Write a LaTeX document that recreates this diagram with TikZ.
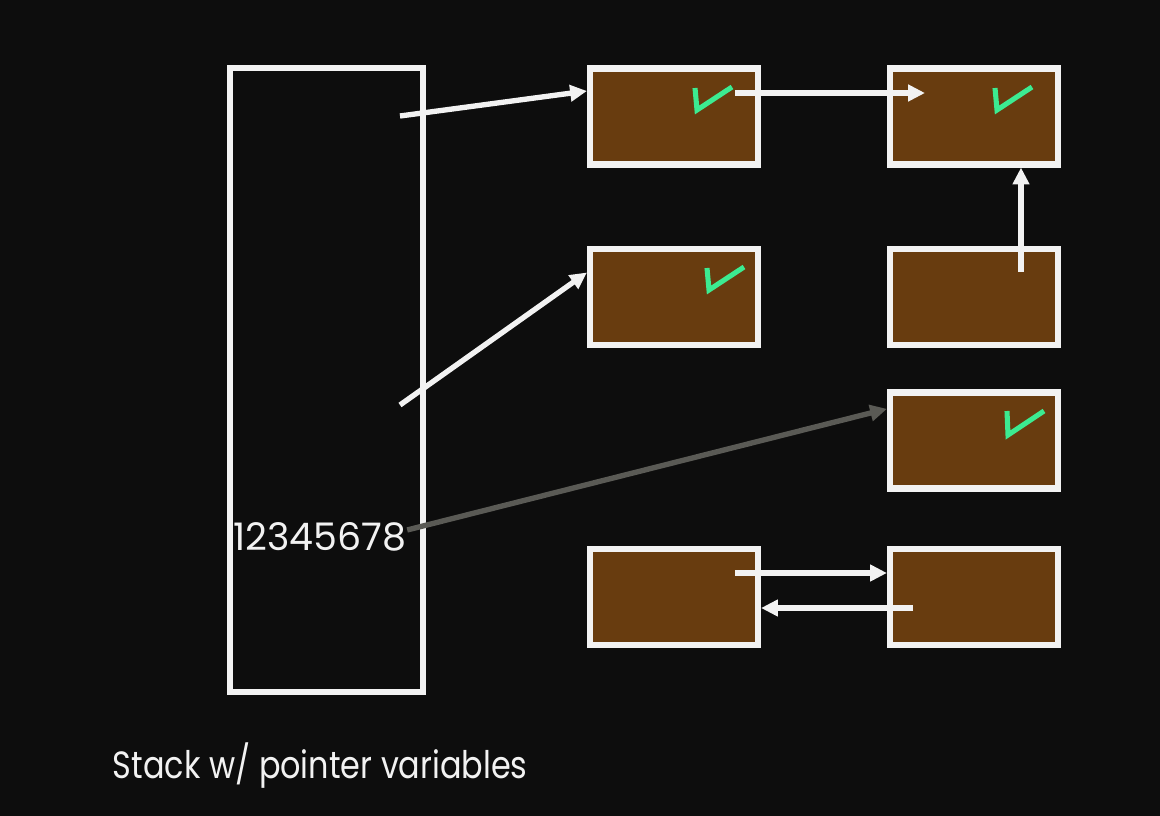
\documentclass[tikz,border=0pt]{standalone}
\usepackage{fontspec}
\setmainfont{Poppins}
\newfontfamily\captionfont[FakeStretch=0.84]{Poppins}
\usetikzlibrary{arrows.meta,calc}

\definecolor{bgdark}{HTML}{0D0D0D}
\definecolor{heapbrown}{HTML}{683C0F}
\definecolor{boxwhite}{HTML}{F2F2F2}
\definecolor{ptrgray}{HTML}{5A5A55}
\definecolor{tickgreen}{HTML}{3CEB91}

\begin{document}
\begin{tikzpicture}[x=0.025cm,y=-0.025cm,
    heap/.style={draw=boxwhite, fill=heapbrown, line width=4.3pt,
      minimum width=4.2cm, minimum height=2.4cm, inner sep=0pt},
    ptr/.style={boxwhite, line width=3.8pt, -{Triangle[length=0.42cm,width=0.4cm]}},
    tick/.style={tickgreen, line width=3.6pt}]
            \fill[bgdark] (0,0) rectangle (1160,816);
            \useasboundingbox (0,0) rectangle (1160,816);

            % stack frame
            \draw[boxwhite, line width=3.6pt] (230,68) rectangle (423,692);
            \node[boxwhite, font=\fontsize{27}{32}\selectfont] (val) at (320,537) {12345678};
            \node[boxwhite, anchor=base west, font=\captionfont\fontsize{27}{32}\selectfont] (caption) at (108,778) {Stack w/ pointer variables};

            % heap objects
            \node[heap] (b1) at (674,116.5) {};
            \node[heap] (b2) at (974,116.5) {};
            \node[heap] (b3) at (674,297) {};
            \node[heap] (b4) at (974,297) {};
            \node[heap] (b5) at (974,440.5) {};
            \node[heap] (b6) at (674,597) {};
            \node[heap] (b7) at (974,597) {};

            % marks
            \draw[tick] (695,88) -- (697,110) -- (732,87);
            \draw[tick] (995,88) -- (997,110) -- (1032,87);
            \draw[tick] (707,268) -- (709,290) -- (744,267);
            \draw[tick] (1007,411) -- (1008,435) -- (1044,411);

            % pointer ends
            \coordinate (s1) at (400,116);
            \coordinate (s2) at (400,405);
            \coordinate (b1out) at (735,93);
            \coordinate (b2in) at (925,93);
            \coordinate (b4up) at (1021,272);
            \coordinate (b6out) at (735,573);
            \coordinate (b7out) at (913,608);

            \draw[ptr] (s1) -- ($(b1.north west)!0.25!(b1.south west)$);
            \draw[ptr] (s2) -- ($(b3.north west)!0.26!(b3.south west)$);
            \draw[ptr, ptrgray] ([xshift=-3pt,yshift=5pt]val.east) -- ($(b5.north west)!0.19!(b5.south west)$);
            \draw[ptr] (b1out) -- (b2in);
            \draw[ptr] (b4up) -- (b4up |- b2.south);
            \draw[ptr] (b6out) -- (b6out -| b7.west);
            \draw[ptr] (b7out) -- (b7out -| b6.east);
        \end{tikzpicture}
\end{document}
